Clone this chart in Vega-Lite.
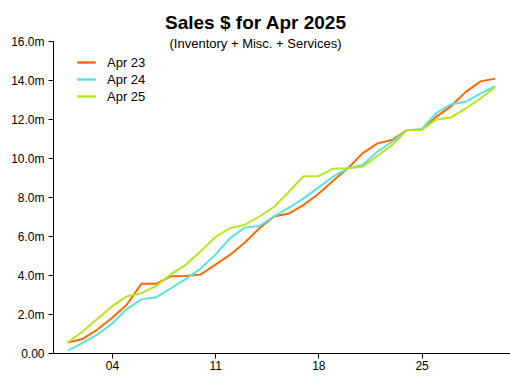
{
  "$schema": "https://vega.github.io/schema/vega-lite/v6.json",
  "width": 457,
  "height": 312,
  "autosize": {"type": "none"},
  "padding": {"left": 53, "top": 41, "right": 0, "bottom": 29},
  "background": "white",
  "title": {
    "text": "Sales $ for Apr 2025",
    "subtitle": "(Inventory + Misc. + Services)",
    "anchor": "middle",
    "dx": -26,
    "offset": -16,
    "font": "Liberation Sans",
    "fontSize": 19,
    "fontWeight": "bold",
    "color": "black",
    "subtitleFont": "Liberation Sans",
    "subtitleFontSize": 13,
    "subtitleColor": "black",
    "subtitlePadding": 5
  },
  "config": {
    "view": {"stroke": null},
    "font": "Liberation Sans"
  },
  "data": {
    "values": [
      {"day": 1, "series": "Apr 23", "sales": 0.54},
      {"day": 2, "series": "Apr 23", "sales": 0.72},
      {"day": 3, "series": "Apr 23", "sales": 1.19},
      {"day": 4, "series": "Apr 23", "sales": 1.79},
      {"day": 5, "series": "Apr 23", "sales": 2.47},
      {"day": 6, "series": "Apr 23", "sales": 3.55},
      {"day": 7, "series": "Apr 23", "sales": 3.55},
      {"day": 8, "series": "Apr 23", "sales": 3.93},
      {"day": 9, "series": "Apr 23", "sales": 3.95},
      {"day": 10, "series": "Apr 23", "sales": 4.02},
      {"day": 11, "series": "Apr 23", "sales": 4.52},
      {"day": 12, "series": "Apr 23", "sales": 5.03},
      {"day": 13, "series": "Apr 23", "sales": 5.65},
      {"day": 14, "series": "Apr 23", "sales": 6.4},
      {"day": 15, "series": "Apr 23", "sales": 7.0},
      {"day": 16, "series": "Apr 23", "sales": 7.15},
      {"day": 17, "series": "Apr 23", "sales": 7.6},
      {"day": 18, "series": "Apr 23", "sales": 8.15},
      {"day": 19, "series": "Apr 23", "sales": 8.83},
      {"day": 20, "series": "Apr 23", "sales": 9.47},
      {"day": 21, "series": "Apr 23", "sales": 10.24},
      {"day": 22, "series": "Apr 23", "sales": 10.75},
      {"day": 23, "series": "Apr 23", "sales": 10.92},
      {"day": 24, "series": "Apr 23", "sales": 11.43},
      {"day": 25, "series": "Apr 23", "sales": 11.46},
      {"day": 26, "series": "Apr 23", "sales": 12.11},
      {"day": 27, "series": "Apr 23", "sales": 12.66},
      {"day": 28, "series": "Apr 23", "sales": 13.39},
      {"day": 29, "series": "Apr 23", "sales": 13.93},
      {"day": 30, "series": "Apr 23", "sales": 14.07},
      {"day": 1, "series": "Apr 24", "sales": 0.12},
      {"day": 2, "series": "Apr 24", "sales": 0.51},
      {"day": 3, "series": "Apr 24", "sales": 0.94},
      {"day": 4, "series": "Apr 24", "sales": 1.5},
      {"day": 5, "series": "Apr 24", "sales": 2.25},
      {"day": 6, "series": "Apr 24", "sales": 2.75},
      {"day": 7, "series": "Apr 24", "sales": 2.86},
      {"day": 8, "series": "Apr 24", "sales": 3.32},
      {"day": 9, "series": "Apr 24", "sales": 3.79},
      {"day": 10, "series": "Apr 24", "sales": 4.32},
      {"day": 11, "series": "Apr 24", "sales": 5.03},
      {"day": 12, "series": "Apr 24", "sales": 5.88},
      {"day": 13, "series": "Apr 24", "sales": 6.43},
      {"day": 14, "series": "Apr 24", "sales": 6.51},
      {"day": 15, "series": "Apr 24", "sales": 7.0},
      {"day": 16, "series": "Apr 24", "sales": 7.45},
      {"day": 17, "series": "Apr 24", "sales": 7.93},
      {"day": 18, "series": "Apr 24", "sales": 8.48},
      {"day": 19, "series": "Apr 24", "sales": 9.05},
      {"day": 20, "series": "Apr 24", "sales": 9.47},
      {"day": 21, "series": "Apr 24", "sales": 9.64},
      {"day": 22, "series": "Apr 24", "sales": 10.32},
      {"day": 23, "series": "Apr 24", "sales": 10.83},
      {"day": 24, "series": "Apr 24", "sales": 11.43},
      {"day": 25, "series": "Apr 24", "sales": 11.48},
      {"day": 26, "series": "Apr 24", "sales": 12.31},
      {"day": 27, "series": "Apr 24", "sales": 12.76},
      {"day": 28, "series": "Apr 24", "sales": 12.88},
      {"day": 29, "series": "Apr 24", "sales": 13.31},
      {"day": 30, "series": "Apr 24", "sales": 13.68},
      {"day": 1, "series": "Apr 25", "sales": 0.54},
      {"day": 2, "series": "Apr 25", "sales": 1.1},
      {"day": 3, "series": "Apr 25", "sales": 1.74},
      {"day": 4, "series": "Apr 25", "sales": 2.39},
      {"day": 5, "series": "Apr 25", "sales": 2.9},
      {"day": 6, "series": "Apr 25", "sales": 3.07},
      {"day": 7, "series": "Apr 25", "sales": 3.44},
      {"day": 8, "series": "Apr 25", "sales": 4.03},
      {"day": 9, "series": "Apr 25", "sales": 4.52},
      {"day": 10, "series": "Apr 25", "sales": 5.2},
      {"day": 11, "series": "Apr 25", "sales": 5.94},
      {"day": 12, "series": "Apr 25", "sales": 6.4},
      {"day": 13, "series": "Apr 25", "sales": 6.57},
      {"day": 14, "series": "Apr 25", "sales": 7.0},
      {"day": 15, "series": "Apr 25", "sales": 7.5},
      {"day": 16, "series": "Apr 25", "sales": 8.27},
      {"day": 17, "series": "Apr 25", "sales": 9.07},
      {"day": 18, "series": "Apr 25", "sales": 9.07},
      {"day": 19, "series": "Apr 25", "sales": 9.45},
      {"day": 20, "series": "Apr 25", "sales": 9.47},
      {"day": 21, "series": "Apr 25", "sales": 9.55},
      {"day": 22, "series": "Apr 25", "sales": 10.1},
      {"day": 23, "series": "Apr 25", "sales": 10.66},
      {"day": 24, "series": "Apr 25", "sales": 11.43},
      {"day": 25, "series": "Apr 25", "sales": 11.43},
      {"day": 26, "series": "Apr 25", "sales": 11.98},
      {"day": 27, "series": "Apr 25", "sales": 12.08},
      {"day": 28, "series": "Apr 25", "sales": 12.54},
      {"day": 29, "series": "Apr 25", "sales": 13.05},
      {"day": 30, "series": "Apr 25", "sales": 13.64}
    ]
  },
  "mark": {"type": "line", "strokeWidth": 2},
  "encoding": {
    "x": {
      "field": "day",
      "type": "quantitative",
      "scale": {"domain": [0, 31], "nice": false, "zero": false},
      "axis": {
        "title": null,
        "grid": false,
        "values": [4, 11, 18, 25],
        "labelExpr": "datum.value < 10 ? '0' + datum.value : '' + datum.value",
        "domainColor": "black",
        "tickColor": "black",
        "tickSize": 5,
        "labelColor": "black",
        "labelFontSize": 12,
        "labelPadding": 2,
        "labelFont": "Liberation Sans"
      }
    },
    "y": {
      "field": "sales",
      "type": "quantitative",
      "scale": {"domain": [0, 16], "nice": false},
      "axis": {
        "title": null,
        "grid": false,
        "values": [0, 2, 4, 6, 8, 10, 12, 14, 16],
        "labelExpr": "datum.value == 0 ? '0.00' : format(datum.value, '.1f') + 'm'",
        "domainColor": "black",
        "tickColor": "black",
        "tickSize": 5,
        "labelColor": "black",
        "labelFontSize": 12,
        "labelPadding": 4,
        "labelFont": "Liberation Sans"
      }
    },
    "color": {
      "field": "series",
      "type": "nominal",
      "scale": {
        "domain": ["Apr 23", "Apr 24", "Apr 25"],
        "range": ["#ff6a00", "#5ae0e0", "#b5e61d"]
      },
      "legend": {
        "title": null,
        "orient": "none",
        "legendX": 27,
        "legendY": 15,
        "symbolType": "M-2.2,0H2.2",
        "symbolSize": 70,
        "symbolStrokeWidth": 2.5,
        "symbolFillColor": "transparent",
        "labelFontSize": 13,
        "labelColor": "black",
        "labelFont": "Liberation Sans",
        "rowPadding": 3,
        "labelOffset": 14
      }
    }
  }
}
